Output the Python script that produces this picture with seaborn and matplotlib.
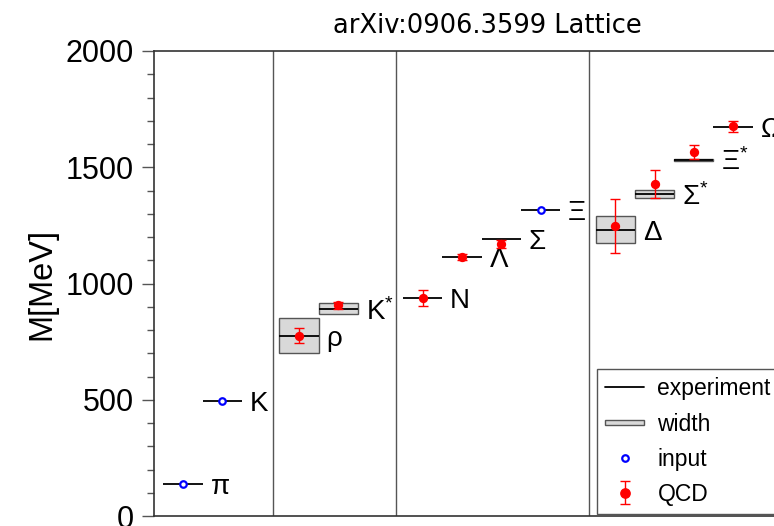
import numpy as np
import pandas as pd
import matplotlib
matplotlib.use("Agg")
import matplotlib.pyplot as plt
import seaborn as sns
from matplotlib.patches import Rectangle, Patch
from matplotlib.lines import Line2D
from matplotlib.legend_handler import HandlerPatch

# ---------------- data ----------------
particles = ["π", "K", "ρ", "K*", "N", "Λ", "Σ", "Ξ", "Δ", "Σ*", "Ξ*", "Ω"]
group = [0, 0, 1, 1, 2, 2, 2, 2, 3, 3, 3, 3]
exp_mass = [138, 496, 775, 892, 939, 1116, 1193, 1318, 1232, 1385, 1533, 1672]
exp_width = [0, 0, 149, 50, 0, 0, 0, 0, 118, 36, 9, 0]
input_names = ["π", "K", "Ξ"]
input_mass = [138, 496, 1318]
qcd_names = ["ρ", "K*", "N", "Λ", "Σ", "Δ", "Σ*", "Ξ*", "Ω"]
qcd_mass = [775, 906, 936, 1114, 1169, 1248, 1427, 1565, 1676]
qcd_err = [32, 14, 34, 15, 17, 115, 60, 31, 25]
y_ticks = [0, 500, 1000, 1500, 2000]

# ---------------- layout ----------------
group_gap = [0.0, 0.95, 1.15, 0.90]   # extra space before each group
first_pos = 0.74
sep_offset = 0.67

sns.set_style("ticks")
plt.rcParams["font.family"] = ["Liberation Sans", "DejaVu Sans"]
plt.rcParams["mathtext.fontset"] = "custom"
plt.rcParams["mathtext.rm"] = "Liberation Sans"
plt.rcParams["mathtext.it"] = "Liberation Sans"
plt.rcParams["mathtext.default"] = "regular"
plt.rcParams["text.color"] = "black"
plt.rcParams["axes.labelcolor"] = "black"

# positions from group structure
xpos = []
shift = first_pos
for i, g in enumerate(group):
    if i > 0 and g != group[i - 1]:
        shift += group_gap[g]
    xpos.append(i + shift)
pos = dict(zip(particles, xpos))
seps = [xpos[i] - sep_offset for i in range(1, len(group)) if group[i] != group[i - 1]]

fig = plt.figure(figsize=(7.74, 5.26), dpi=100)
px = 1 / 774
py = 1 / 526
ax = fig.add_axes([154 * px, 10 * py, 666 * px, 465 * py])
ax.set_xlim(0, 666 / 39.29)
ax.set_ylim(0, 2000)

# separators
for s in seps:
    ax.axvline(s, color="#555555", lw=1.0, zorder=1)

# experiment boxes and lines
for x, m, w in zip(xpos, exp_mass, exp_width):
    if w > 0:
        ax.add_patch(Rectangle((x - 0.5, m - w / 2), 1.0, w, facecolor="#d9d9d9",
                               edgecolor="#555555", lw=1.0, zorder=2))
    ax.hlines(m, x - 0.5, x + 0.5, color="black", lw=1.3, zorder=3)

# labels
for x, m, name in zip(xpos, exp_mass, particles):
    lab = name.replace("*", "$^{*}$")
    ax.text(x + 0.7, m, lab, fontsize=20, ha="left", va="center_baseline", zorder=5)

# input points (seaborn)
df_in = pd.DataFrame({"x": [pos[n] for n in input_names], "M": input_mass})
sns.scatterplot(data=df_in, x="x", y="M", ax=ax, marker="o", s=22,
                facecolor="white", edgecolor="blue", linewidth=1.6, zorder=6, legend=False)

# QCD points (seaborn) + errors
df_q = pd.DataFrame({"x": [pos[n] for n in qcd_names], "M": qcd_mass, "err": qcd_err})
ax.errorbar(df_q["x"], df_q["M"], yerr=df_q["err"], fmt="none", ecolor="red",
            elinewidth=1.0, capsize=3.8, capthick=1.0, zorder=6)
sns.scatterplot(data=df_q, x="x", y="M", ax=ax, marker="o", s=45, color="red",
                edgecolor="red", linewidth=0, zorder=7, legend=False)

# axes styling
ax.set_yticks(y_ticks)
ax.set_yticks(np.arange(0, 2001, 100), minor=True)
ax.set_xticks([])
ax.tick_params(axis="y", which="major", length=8.5, width=1, color="#555555",
               labelsize=22, pad=6, labelcolor="black")
ax.tick_params(axis="y", which="minor", length=5, width=1, color="#555555")
for sp in ["left", "bottom", "top", "right"]:
    ax.spines[sp].set_color("#333333")
    ax.spines[sp].set_linewidth(1.2)
ax.set_xlabel("")
ax.set_ylabel("M[MeV]", fontsize=23.5, labelpad=6)
ax.set_title("arXiv:0906.3599 Lattice", fontsize=18.5, pad=13,
             family=["DejaVu Sans"])

# legend
def make_box(legend, orig_handle, xdescent, ydescent, width, height, fontsize):
    return Rectangle((-xdescent, -ydescent + height * 0.32), width, height * 0.36)

h_exp = Line2D([], [], color="black", lw=1.3)
h_w = Patch(facecolor="#d9d9d9", edgecolor="#555555", lw=1.0)
h_in = Line2D([], [], marker="o", ls="none", mfc="white", mec="blue", mew=1.6, ms=4.7)
h_q = ax.errorbar([np.nan], [np.nan], yerr=[[1], [1]], fmt="o", color="red", ms=6.7,
                  elinewidth=1.0, capsize=3.5)
leg = ax.legend([h_exp, h_w, h_in, h_q], ["experiment", "width", "input", "QCD"],
                loc="upper left", bbox_to_anchor=(597 * px, 1 - 369 * py),
                bbox_transform=fig.transFigure, fontsize=16.5, frameon=True,
                fancybox=False, edgecolor="#555555", framealpha=1,
                handlelength=1.7, handletextpad=0.57, labelspacing=0.525,
                borderpad=0.37, borderaxespad=0,
                handler_map={Patch: HandlerPatch(patch_func=make_box)})
leg.get_frame().set_linewidth(1.0)

fig.savefig("out.png", dpi=100)
